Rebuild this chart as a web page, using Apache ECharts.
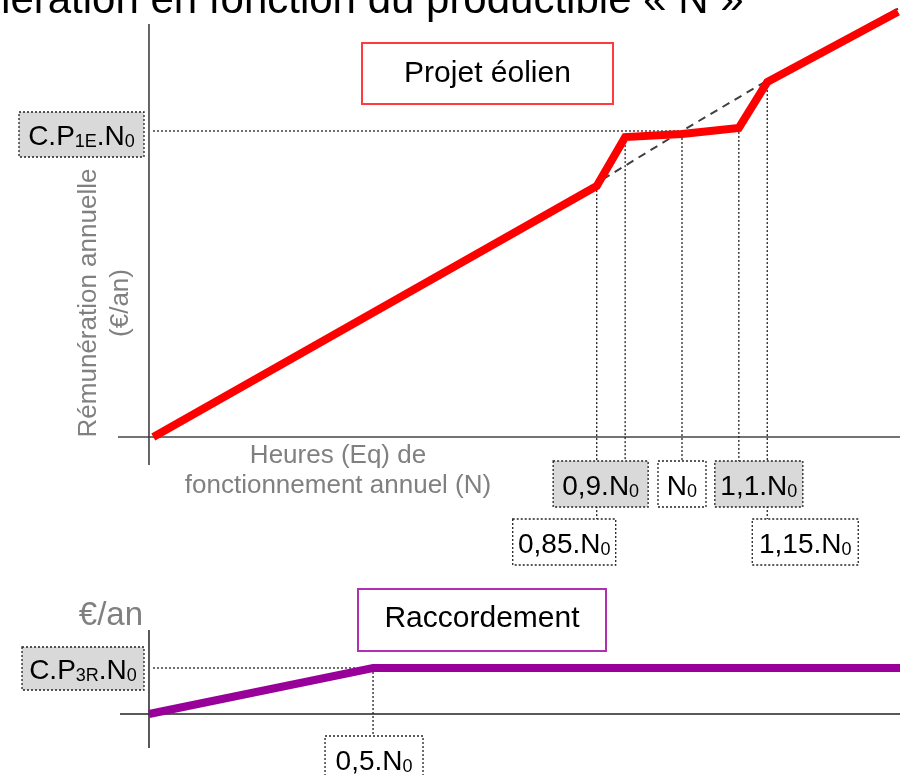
<!DOCTYPE html>
<html><head><meta charset="utf-8">
<script src="https://cdn.jsdelivr.net/npm/echarts@6/dist/echarts.min.js"></script>
<style>html,body{margin:0;padding:0;background:#fff}#c{width:900px;height:775px}</style>
</head><body><div id="c"></div>
<script>
// ---------------- data (N in units of N0, rémunération in units of C.P.N0) ----------------
const eolienN        = [0.07, 0.85, 0.90, 1.00, 1.10, 1.15, 1.38];
const eolienRemu     = [0.00, 0.82, 0.98, 0.99, 1.01, 1.16, 1.39];
const lineaireN      = [0.07, 0.85, 1.00, 1.15, 1.38];
const lineaireRemu   = [0.00, 0.83, 1.00, 1.165, 1.40];
const eolienTicks    = [0.85, 0.90, 1.00, 1.10, 1.15];
const eolienTickText = ['0,85.N', '0,9.N', 'N', '1,1.N', '1,15.N'];   // each followed by subscript 0
const eolienLevel    = 1.0;                                            // C.P1E.N0
const raccN          = [0.00, 0.50, 1.68];
const raccRemu       = [0.00, 1.00, 1.00];
const raccTicks      = [0.50];
const raccTickText   = ['0,5.N'];
const raccLevel      = 1.0;                                            // C.P3R.N0

// ---------------- layout / style ----------------
const FONT = '"Liberation Sans", Arial, sans-serif';
const topBoxes = [ // row 0 / 1, offset of left edge from tick line, width, fill
  {row:1, dx:-84, w:103, fill:'#fff'},
  {row:0, dx:-72, w:95,  fill:'#d9d9d9'},
  {row:0, dx:-24, w:48,  fill:'#fff'},
  {row:0, dx:-24, w:88,  fill:'#d9d9d9'},
  {row:1, dx:-15, w:106, fill:'#fff'}
];
const rowTop = [461, 519], boxH = 46;

const chart = echarts.init(document.getElementById('c'), null, {renderer:'canvas'});
const zip = (a,b) => a.map((v,i)=>[v,b[i]]);
chart.setOption({
  animation:false,
  backgroundColor:'#fff',
  grid:[
    {left:118, right:0, top:0, bottom:0},
    {left:120, right:0, top:0, bottom:0}
  ],
  xAxis:[
    {type:'value', gridIndex:0, min:0.0079, max:1.3835, show:false},
    {type:'value', gridIndex:1, min:-0.0647, max:1.676, show:false}
  ],
  yAxis:[
    {type:'value', gridIndex:0, min:-1.1046, max:1.4281, show:false},
    {type:'value', gridIndex:1, min:-1.326, max:15.52, show:false}
  ],
  series:[
    {type:'line', name:'linéaire', xAxisIndex:0, yAxisIndex:0, data:zip(lineaireN, lineaireRemu),
     symbol:'none', z:2, lineStyle:{color:'#404040', width:2, type:[8,6]}},
    {type:'line', name:'Projet éolien', xAxisIndex:0, yAxisIndex:0, data:zip(eolienN, eolienRemu),
     symbol:'none', z:3, lineStyle:{color:'#ff0000', width:8, join:'miter'}},
    {type:'line', name:'Raccordement', xAxisIndex:1, yAxisIndex:1, data:zip(raccN, raccRemu),
     symbol:'none', z:3, lineStyle:{color:'#990099', width:8, join:'miter'}}
  ]
});

const P = (gi,x,y) => chart.convertToPixel({gridIndex:gi},[x,y]);
const RICH = {
  m:{fontSize:28, fontFamily:FONT, fill:'#000', color:'#000', lineHeight:34, verticalAlign:'bottom'},
  s:{fontSize:18, fontFamily:FONT, fill:'#000', color:'#000', lineHeight:21, verticalAlign:'bottom'}
};
const els = [];
const line = (x1,y1,x2,y2,opt) => els.push({type:'line', z:opt.z||1, silent:true,
  shape:{x1,y1,x2,y2}, style:Object.assign({stroke:'#333', lineWidth:1.5}, opt.style||{})});
const dotted = {stroke:'#222', lineWidth:1.3, lineDash:[2,2]};
function labelBox(x,y,w,h,fill,rich){
  els.push({type:'rect', z:20, silent:true, shape:{x,y,width:w,height:h},
    style:{fill, stroke:'#222', lineWidth:1.3, lineDash:[2,2]}});
  els.push({type:'text', z:21, silent:true, style:{text:rich, x:x+w/2, y:y+h/2,
    align:'center', verticalAlign:'middle', textAlign:'center', textVerticalAlign:'middle', rich:RICH, fill:'#000', font:'28px '+FONT}});
}
const valAt = (arrN, arrV, n) => arrV[arrN.indexOf(n)];

// ---- title (cropped at the top) ----
els.push({type:'text', z:30, silent:true, style:{text:'Rémunération en fonction du productible « N »',
  x:-125, y:1, align:'left', verticalAlign:'middle', textAlign:'left', textVerticalAlign:'middle',
  font:'42px '+FONT, fill:'#000'}});

// ---- top chart axes ----
const o1 = P(0, 0.0624, 0);
line(118, o1[1], 900, o1[1], {style:{stroke:'#444'}});
line(o1[0], 24, o1[0], 465, {style:{stroke:'#333'}});
// level line
const lv = P(0, 1.0, eolienLevel);
line(o1[0]+4, lv[1], lv[0], lv[1], {style:dotted});
labelBox(19, lv[1]-19, 125, 45, '#d9d9d9', '{m|C.P}{s|1E}{m|.N}{s|0}');
// tick guides and boxes
eolienTicks.forEach((n,i)=>{
  const p = P(0, n, valAt(eolienN, eolienRemu, n));
  const b = topBoxes[i];
  const top = rowTop[b.row];
  line(p[0], p[1], p[0], top, {style:dotted});
  labelBox(p[0]+b.dx, top, b.w, boxH, b.fill, '{m|'+eolienTickText[i]+'}{s|0}');
});
// axis titles
els.push({type:'text', z:30, silent:true, rotation:Math.PI/2, x:105, y:303,
  style:{text:'Rémunération annuelle\n(€/an)', x:0, y:0, align:'center', verticalAlign:'middle',
  textAlign:'center', textVerticalAlign:'middle', font:'26px '+FONT, fill:'#808080', lineHeight:32}});
els.push({type:'text', z:30, silent:true, style:{text:'Heures (Eq) de\nfonctionnement annuel (N)', x:338, y:471,
  align:'center', verticalAlign:'middle', textAlign:'center', textVerticalAlign:'middle',
  font:'26px '+FONT, fill:'#808080', lineHeight:30}});
// Projet éolien box
els.push({type:'rect', z:20, silent:true, shape:{x:362, y:43, width:251, height:61},
  style:{fill:'#fff', stroke:'#ff3b3b', lineWidth:2}});
els.push({type:'text', z:21, silent:true, style:{text:'Projet éolien', x:487.5, y:73.5,
  align:'center', verticalAlign:'middle', textAlign:'center', textVerticalAlign:'middle', font:'30px '+FONT, fill:'#000'}});

// ---- bottom chart ----
const o2 = P(1, 0, 0);
line(120, o2[1], 900, o2[1], {style:{stroke:'#222'}});
line(o2[0], 630, o2[0], 748, {style:{stroke:'#222'}});
const lv2 = P(1, raccTicks[0], raccLevel);
line(o2[0]+4, lv2[1], lv2[0], lv2[1], {style:dotted});
labelBox(22, lv2[1]-21, 122, 43, '#d9d9d9', '{m|C.P}{s|3R}{m|.N}{s|0}');
raccTicks.forEach((n,i)=>{
  const p = P(1, n, valAt(raccN, raccRemu, n));
  line(p[0], p[1], p[0], 736, {style:dotted});
  labelBox(p[0]-48, 736, 98, 46, '#fff', '{m|'+raccTickText[i]+'}{s|0}');
});
els.push({type:'text', z:30, silent:true, style:{text:'€/an', x:143, y:616,
  align:'right', verticalAlign:'middle', textAlign:'right', textVerticalAlign:'middle', font:'33px '+FONT, fill:'#808080'}});
els.push({type:'rect', z:20, silent:true, shape:{x:358, y:589, width:248, height:62},
  style:{fill:'#fff', stroke:'#b030b0', lineWidth:2}});
els.push({type:'text', z:21, silent:true, style:{text:'Raccordement', x:482, y:619,
  align:'center', verticalAlign:'middle', textAlign:'center', textVerticalAlign:'middle', font:'30px '+FONT, fill:'#000'}});

chart.setOption({graphic:{elements:els}});
</script></body></html>
